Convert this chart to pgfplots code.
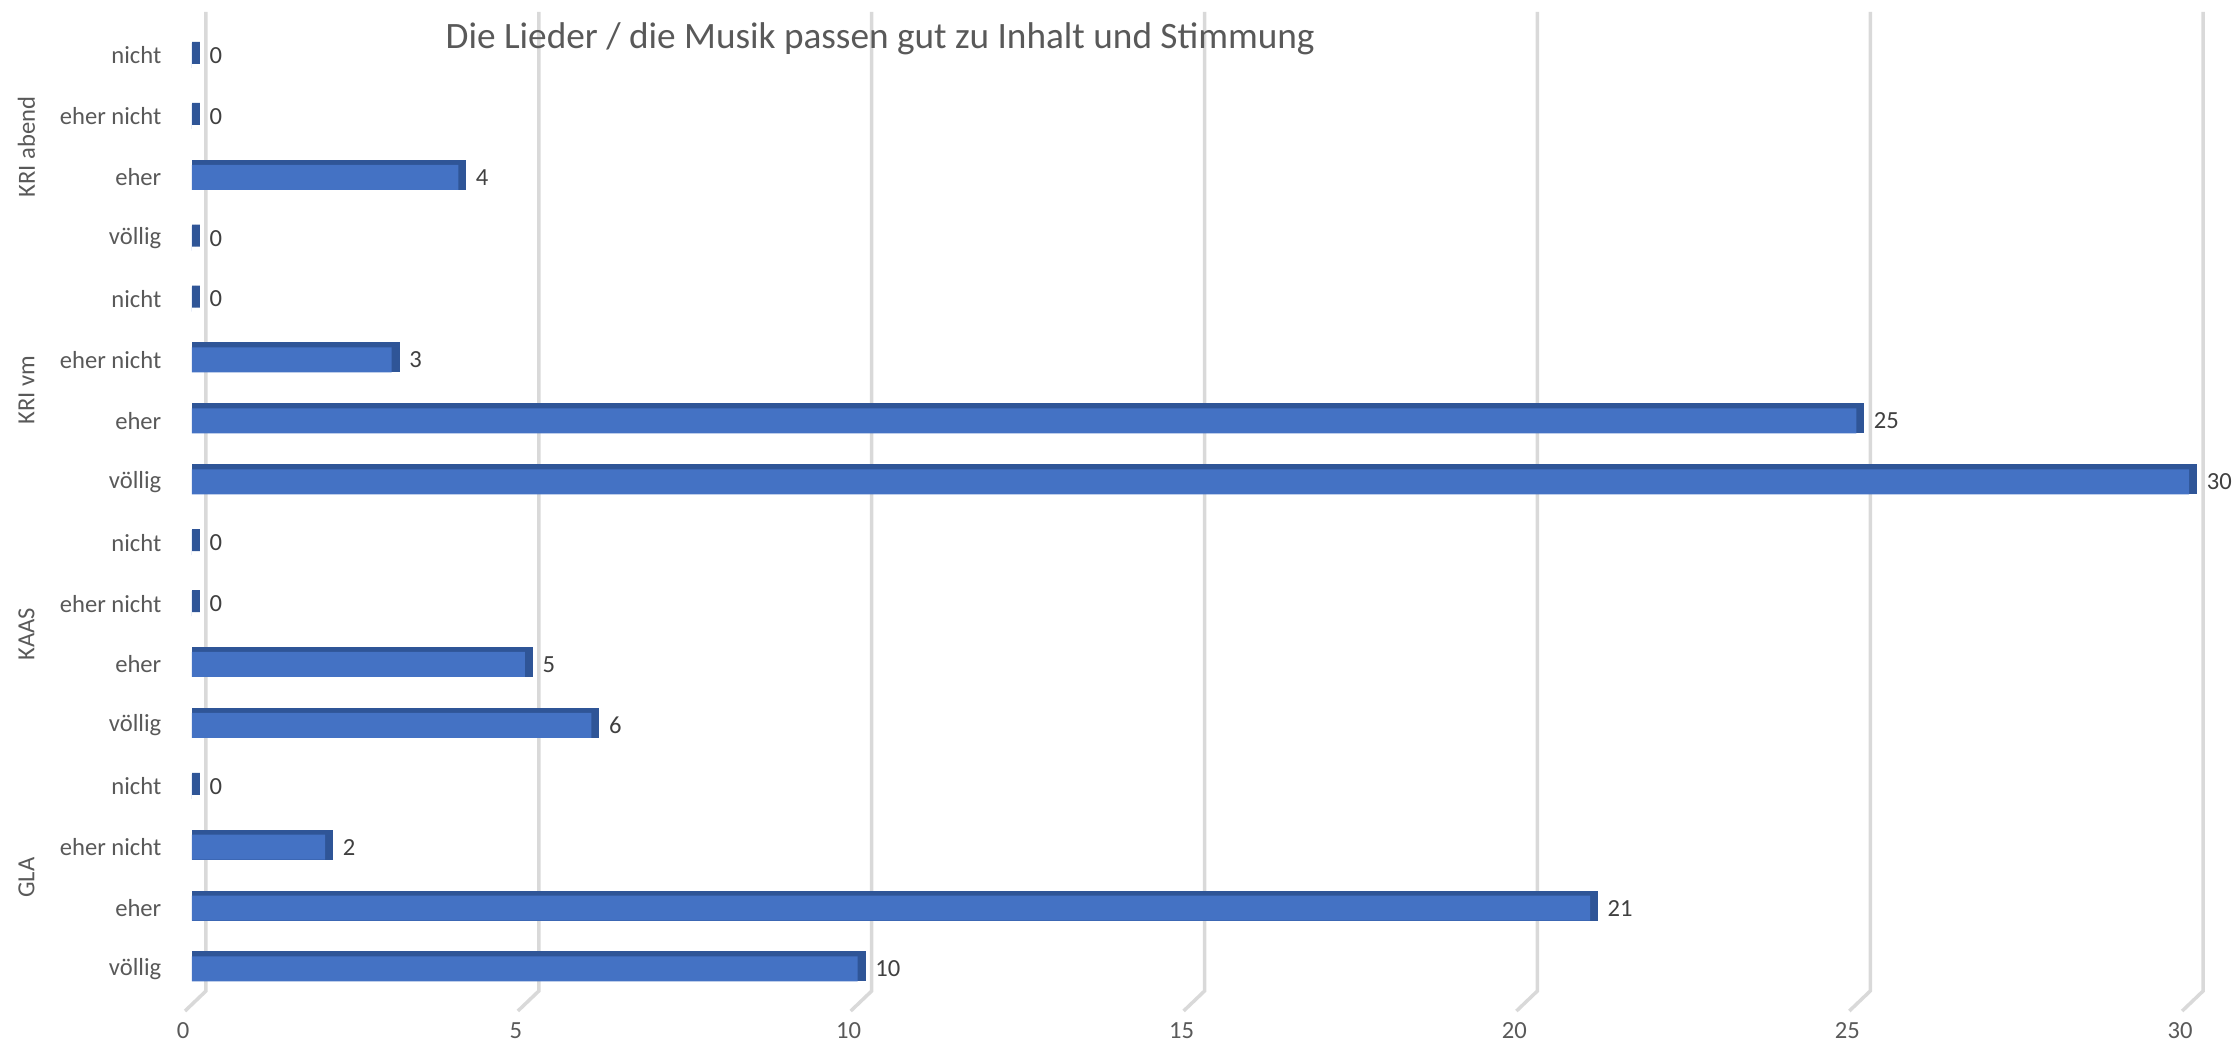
\documentclass[border=0pt]{standalone}
\usepackage{pgfplots}
\pgfplotsset{compat=1.18}
\usepackage{fontspec}
\setmainfont{Carlito}
\definecolor{barfront}{HTML}{4472C4}
\definecolor{barside}{HTML}{2F5597}
\definecolor{gridc}{HTML}{D9D9D9}
\definecolor{txt}{HTML}{595959}
\definecolor{vtxt}{HTML}{404040}

\begin{document}
\begin{tikzpicture}
\begin{axis}[
    scale only axis,
    width=223.4mm,
    height=105.1mm,
    xmin=-2.884, xmax=30.674,
    ymin=-0.3465, ymax=16.911,
    clip=false,
    axis line style={draw=none},
    tick style={draw=none},
    major tick length=0pt,
    xtick={0,5,...,30},
    ytick={1,...,16},
    yticklabels={völlig,eher,eher nicht,nicht,völlig,eher,eher nicht,nicht,völlig,eher,eher nicht,nicht,völlig,eher,eher nicht,nicht},
    xticklabel style={anchor=center, inner sep=0pt, xshift=-0.9mm, yshift=2mm,
        font=\fontsize{7}{8}\selectfont, text=txt},
    yticklabel style={anchor=east, inner sep=0pt, xshift=16.2mm,
        font=\fontsize{7}{8}\selectfont, text=txt},
    /pgf/number format/assume math mode=true,
    title={Die Lieder / die Musik passen gut zu Inhalt und Stimmung},
    title style={at={(rel axis cs:0.394,0.943)}, anchor=center,
        font=\fontsize{10.6}{12}\selectfont, text=txt},
]
% grid walls (back line + floor edge)
\addplot[gridc, line width=0.35mm, mark=none] coordinates {(0.21,16.714) (0.21,0.639) (-0.105,0.31)};
\addplot[gridc, line width=0.35mm, mark=none] coordinates {(5.21,16.714) (5.21,0.639) (4.895,0.31)};
\addplot[gridc, line width=0.35mm, mark=none] coordinates {(10.21,16.714) (10.21,0.639) (9.895,0.31)};
\addplot[gridc, line width=0.35mm, mark=none] coordinates {(15.21,16.714) (15.21,0.639) (14.895,0.31)};
\addplot[gridc, line width=0.35mm, mark=none] coordinates {(20.21,16.714) (20.21,0.639) (19.895,0.31)};
\addplot[gridc, line width=0.35mm, mark=none] coordinates {(25.21,16.714) (25.21,0.639) (24.895,0.31)};
\addplot[gridc, line width=0.35mm, mark=none] coordinates {(30.21,16.714) (30.21,0.639) (29.895,0.31)};

% top and side faces of the 3d bars
\addplot[xbar, bar shift=0pt, bar width=2.2mm, fill=barside, draw=barside,
    line width=0.8mm, xshift=0.4mm, yshift=0.25mm] table {
val pos
10 1
21 2
2 3
0 4
6 5
5 6
0 7
0 8
30 9
25 10
3 11
0 12
0 13
4 14
0 15
0 16
};
% front faces
\addplot[xbar, bar shift=0pt, bar width=2.5mm, fill=barfront, draw=none,
    point meta=x, nodes near coords,
    nodes near coords style={anchor=west, inner sep=0pt, xshift=1.7mm,
        font=\fontsize{7}{8}\selectfont, text=vtxt}] table {
val pos
10 1
21 2
2 3
0 4
6 5
5 6
0 7
0 8
30 9
25 10
3 11
0 12
0 13
4 14
0 15
0 16
};

\node[rotate=90, font=\fontsize{7}{8}\selectfont, text=txt] at (axis cs:-2.486,2.5) {GLA};
\node[rotate=90, font=\fontsize{7}{8}\selectfont, text=txt] at (axis cs:-2.486,6.5) {KAAS};
\node[rotate=90, font=\fontsize{7}{8}\selectfont, text=txt] at (axis cs:-2.486,10.5) {KRI vm};
\node[rotate=90, font=\fontsize{7}{8}\selectfont, text=txt] at (axis cs:-2.486,14.5) {KRI abend};
\end{axis}
\end{tikzpicture}
\end{document}
